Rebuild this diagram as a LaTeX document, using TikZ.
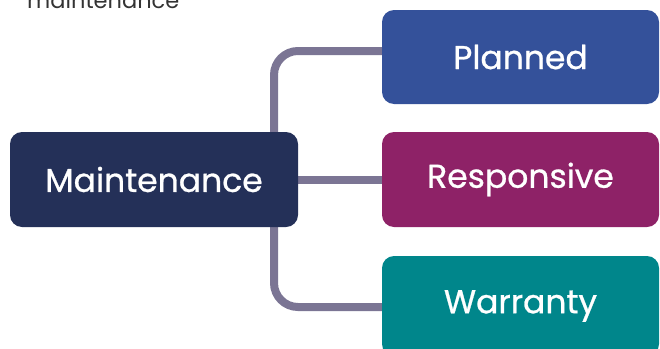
\documentclass[tikz,border=0pt]{standalone}
\usepackage{fontspec}
\setmainfont{Poppins}
\newfontface\boxface{Poppins}[FakeBold=0.8]
\usetikzlibrary{backgrounds}
\definecolor{navy}{RGB}{36,48,88}
\definecolor{planblue}{RGB}{52,81,154}
\definecolor{respmag}{RGB}{142,34,103}
\definecolor{warteal}{RGB}{0,134,139}
\definecolor{linkgray}{RGB}{123,117,148}
\definecolor{captiongray}{RGB}{51,51,51}
\tikzset{
  box/.style={rounded corners=12pt, text=white, inner sep=0pt,
    font=\boxface\fontsize{33}{38}\selectfont},
  link/.style={draw=linkgray, line width=8pt, rounded corners=24pt}
}
\begin{document}
\begin{tikzpicture}[x=1pt,y=-1pt]
\useasboundingbox (0,0) rectangle (660,348);
\node[anchor=base west, text=captiongray, inner sep=0pt,
  font=\fontsize{22.5}{26}\selectfont] (cap) at (27,9) {maintenance};
\node[box, fill=navy, minimum width=288pt, minimum height=95pt] (main) at (154,179.5) {Maintenance};
\node[box, fill=planblue, minimum width=277pt, minimum height=94pt] (plan) at (520.5,57) {Planned};
\node[box, fill=respmag, minimum width=277pt, minimum height=95pt] (resp) at (520.5,179.5) {Responsive};
\node[box, fill=warteal, minimum width=277pt, minimum height=100pt] (warr) at (520.5,306) {Warranty};
\coordinate (jx) at (274,179);
\begin{scope}[on background layer]
  \draw[link] (jx) |- ([yshift=6pt]plan.west);
  \draw[link] (jx) |- ([yshift=-1pt]warr.west);
  \draw[link] (main.east) -- (resp.west);
\end{scope}
\end{tikzpicture}
\end{document}
